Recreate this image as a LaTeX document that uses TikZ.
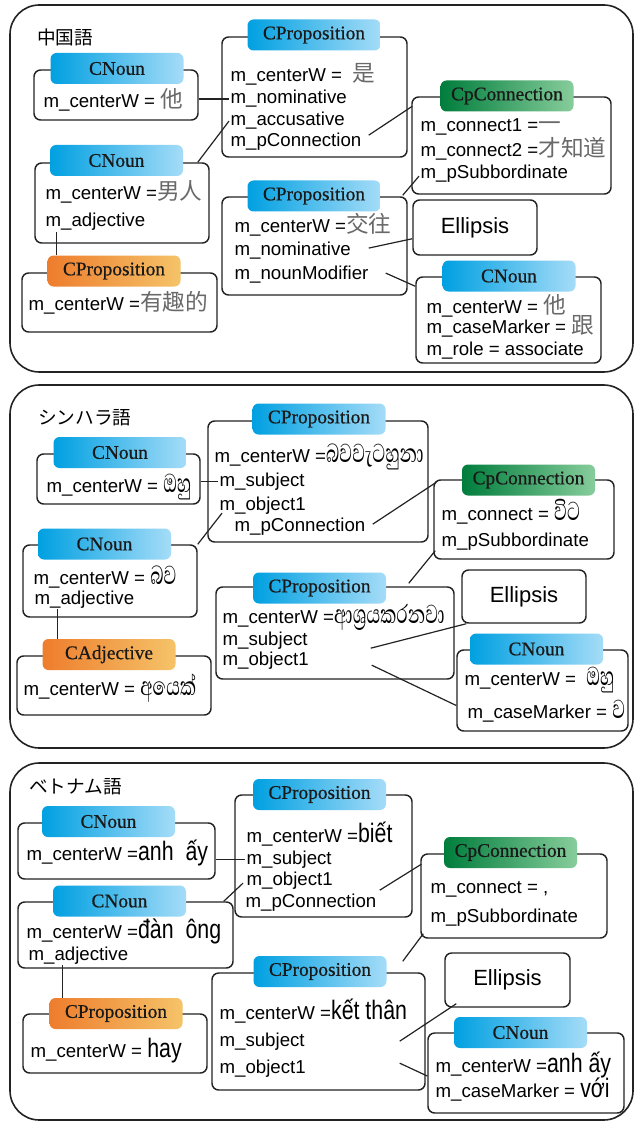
\documentclass[tikz,border=0pt]{standalone}
\usepackage{fontspec}
\setmainfont{Liberation Serif}
\setsansfont{Liberation Sans}
\newfontfamily\hdrfont[FakeBold=0.6]{Liberation Serif}
\newfontfamily\jpfont{Noto Sans CJK JP}
\newfontfamily\zhfont{Noto Sans CJK SC}
\newfontfamily\sifont[Script=Sinhala,FakeStretch=0.68]{Abhaya Libre}
\newfontfamily\vifont[FakeStretch=0.8]{Liberation Sans}
\usetikzlibrary{fit,calc}

\definecolor{linegray}{RGB}{35,35,35}
\definecolor{zhgray}{RGB}{105,105,105}
\definecolor{blueL}{RGB}{0,160,225}
\definecolor{blueR}{RGB}{165,220,248}
\definecolor{orangeL}{RGB}{238,125,45}
\definecolor{orangeR}{RGB}{245,195,105}
\definecolor{greenL}{RGB}{0,125,60}
\definecolor{greenR}{RGB}{135,205,155}

\newcommand{\zhw}[1]{{\zhfont\fontsize{17}{17}\selectfont\color{zhgray}#1}}
\newcommand{\siw}[1]{{\sifont\fontsize{25}{25}\selectfont #1}}
\newcommand{\viw}[1]{{\vifont\fontsize{20}{20}\selectfont #1}}

\tikzset{
  panel/.style={draw=linegray, line width=1.2pt, rounded corners=22pt, inner sep=0pt},
  frame/.style={draw=linegray, line width=1.1pt, rounded corners=5pt, inner sep=0pt},
  hdr/.style={rounded corners=4.5pt, minimum width=99.75pt, minimum height=23.25pt,
    inner sep=0pt, text=black!90, font=\hdrfont\fontsize{14.5}{14.5}\selectfont},
  nounhdr/.style={hdr, left color=blueL, right color=blueR},
  prophdr/.style={hdr, left color=orangeL, right color=orangeR},
  connhdr/.style={hdr, left color=greenL, right color=greenR},
  ln/.style={anchor=base west, inner sep=1pt, font=\sffamily\fontsize{14}{16}\selectfont},
  ttl/.style={anchor=west, inner sep=0pt, font=\jpfont\fontsize{14}{14}\selectfont},
  elltext/.style={inner sep=0pt, font=\sffamily\fontsize{16.5}{16.5}\selectfont},
  wire/.style={draw=linegray, line width=0.9pt},
}

\begin{document}
\begin{tikzpicture}[x=0.75pt,y=-0.75pt]
  \useasboundingbox (0,0) rectangle (636,1123);
  \fill[white] (0,0) rectangle (636,1123);

  % Chinese panel
  \node[panel, fit={(10,5) (633,372)}] (pnl1) {};
  \node[ttl] (ttl1) at (37,37) {中国語};
  \node[frame, fit={(34,70) (198,120)}] (cn1) {};
  \node[frame, fit={(222,37) (407,157)}] (cp1) {};
  \node[frame, fit={(412,97) (611,194)}] (cpc) {};
  \node[frame, fit={(35,163) (209,243)}] (cn2) {};
  \node[frame, fit={(22,273) (217,332)}] (o1) {};
  \node[frame, fit={(222,197) (407,295)}] (cp2) {};
  \node[frame, fit={(413,200) (537,255)}] (ell1) {};
  \node[elltext] (ell1t) at (ell1.center) {Ellipsis};
  \node[frame, fit={(416,277) (601,363)}] (cn3) {};

  \node[ln] (cn1w) at (42,108) {m\_centerW = \zhw{他}};
  \node[ln] (cp1w) at (229,82) {m\_centerW = ~\zhw{是}};
  \node[ln] (cp1nom) at (229,104) {m\_nominative};
  \node[ln] (cp1acc) at (229,126) {m\_accusative};
  \node[ln] (cp1con) at (229,147) {m\_pConnection};
  \node[ln] (cpc1) at (419,132) {m\_connect1 =\zhw{一}};
  \node[ln] (cpc2) at (419,157) {m\_connect2 =\zhw{才知道}};
  \node[ln] (cpcsub) at (419,179) {m\_pSubbordinate};
  \node[ln] (cn2w) at (44,200) {m\_centerW =\zhw{男人}};
  \node[ln] (cn2adj) at (44,227) {m\_adjective};
  \node[ln] (o1w) at (27,310) {m\_centerW =\zhw{有趣的}};
  \node[ln] (cp2w) at (233,233) {m\_centerW =\zhw{交往}};
  \node[ln] (cp2nom) at (233,255) {m\_nominative};
  \node[ln] (cp2mod) at (233,279) {m\_nounModifier};
  \node[ln] (cn3w) at (425,313) {m\_centerW = \zhw{他}};
  \node[ln] (cn3cm) at (425,333) {m\_caseMarker = \zhw{跟}};
  \node[ln] (cn3role) at (425,355) {m\_role = associate};

  \draw[wire] (cp1nom.west -| cn1.east) -- (cp1nom.west);
  \draw[wire] ($(cn2.north east)+(-12,0)$) -- (cp1acc.west);
  \draw[wire] ($(cp1.east |- cp1con.west)+(-39,-7)$) -- ($(cpc.north west)+(1,10)$);
  \draw[wire] ($(cp2.north east)+(-5,-1)$) -- ($(cpcsub.west)+(0,2)$);
  \draw[wire] ($(cp2.east |- cp2nom.west)+(-39,-2)$) -- ($(ell1.south west)+(0,-17)$);
  \draw[wire] ($(cp2.east |- cp2mod.west)+(-22,-1)$) -- ($(cn3.north west)+(0,10)$);

  \node[nounhdr] (cn1h) at (117,68.5) {CNoun};
  \node[nounhdr] (cp1h) at (314,35) {CProposition};
  \node[connhdr] (cpch) at (507,96) {CpConnection};
  \node[nounhdr] (cn2h) at (116.5,160.5) {CNoun};
  \node[prophdr] (o1h) at (114,271) {CProposition};
  \node[nounhdr] (cp2h) at (314,196) {CProposition};
  \node[nounhdr] (cn3h) at (509,276) {CNoun};
  \coordinate (o1t) at ($(o1h.north west)+(9,0)$);
  \draw[wire] (o1t) -- (o1t |- cn2adj.south);

  % Sinhala panel
  \node[panel, fit={(10,385) (633,748)}] (pnl2) {};
  \node[ttl] (ttl2) at (38,418) {シンハラ語};
  \node[frame, fit={(37,454) (200,504)}] (cn1s) {};
  \node[frame, fit={(208,421) (428,542)}] (cp1s) {};
  \node[frame, fit={(434,480) (614,559)}] (cpcs) {};
  \node[frame, fit={(23,545) (197,617)}] (cn2s) {};
  \node[frame, fit={(17,656) (211,715)}] (o2) {};
  \node[frame, fit={(216,587) (454,679)}] (cp2s) {};
  \node[frame, fit={(462,570) (586,623)}] (ell2) {};
  \node[elltext] (ell2t) at (ell2.center) {Ellipsis};
  \node[frame, fit={(457,650) (628,731)}] (cn3s) {};

  \node[ln] (cn1sw) at (45,492) {m\_centerW = \siw{ඔහු}};
  \node[ln] (cp1sw) at (213,462) {m\_centerW =\siw{බවවැටහුනා}};
  \node[ln] (cp1ssub) at (218,486) {m\_subject};
  \node[ln] (cp1sobj) at (218,510) {m\_object1};
  \node[ln] (cp1scon) at (233,531) {m\_pConnection};
  \node[ln] (cpcs1) at (440,520) {m\_connect = \siw{විට}};
  \node[ln] (cpcssub) at (440,546) {m\_pSubbordinate};
  \node[ln] (cn2sw) at (32,584) {m\_centerW = \siw{බව}};
  \node[ln] (cn2sadj) at (33,604) {m\_adjective};
  \node[ln] (o2w) at (22,695) {m\_centerW = \siw{අයෙක්}};
  \node[ln] (cp2sw) at (221,623) {m\_centerW =\siw{ආශ්‍රයකරනවා}};
  \node[ln] (cp2ssub) at (221,645) {m\_subject};
  \node[ln] (cp2sobj) at (221,665) {m\_object1};
  \node[ln] (cn3sw) at (463,685) {m\_centerW = ~\siw{ඔහු}};
  \node[ln] (cn3scm) at (466,718) {m\_caseMarker = \siw{ව}};

  \draw[wire] (cp1ssub.west -| cn1s.east) -- (cp1ssub.west);
  \draw[wire] (cn2s.north east) -- ($(cp1sobj.west)+(4,8)$);
  \draw[wire] ($(cp1s.east |- cp1scon.west)+(-56,-2)$) -- ($(cpcs.north west)+(3,3)$);
  \draw[wire] ($(cp2s.north east)+(-46,-3)$) -- ($(cpcs.south west)+(2,-9)$);
  \draw[wire] ($(cp2s.east |- cp2ssub.west)+(-84,8)$) -- ($(ell2.south west)+(5,0)$);
  \draw[wire] ($(cp2s.east |- cp2sobj.west)+(-83,5)$) -- ($(cn3s.west)+(0,15)$);

  \node[nounhdr] (cn1sh) at (120,452.5) {CNoun};
  \node[nounhdr] (cp1sh) at (319,419) {CProposition};
  \node[connhdr] (cpcsh) at (528.5,480) {CpConnection};
  \node[nounhdr] (cn2sh) at (104.5,544) {CNoun};
  \node[prophdr] (o2h) at (109,654.5) {CAdjective};
  \node[nounhdr] (cp2sh) at (319.5,588) {CProposition};
  \node[nounhdr] (cn3sh) at (536.5,649) {CNoun};
  \coordinate (o2t) at ($(o2h.north west)+(15,0)$);
  \draw[wire] (o2t) -- (o2t |- cn2sadj.south);

  % Vietnamese panel
  \node[panel, fit={(10,763) (633,1120)}] (pnl3) {};
  \node[ttl] (ttl3) at (29,787) {ベトナム語};
  \node[frame, fit={(18,823) (215,879)}] (cn1v) {};
  \node[frame, fit={(235,795) (412,917)}] (cp1v) {};
  \node[frame, fit={(421,854) (607,938)}] (cpcv) {};
  \node[frame, fit={(18,902) (233,968)}] (cn2v) {};
  \node[frame, fit={(23,1014) (207,1073)}] (o3) {};
  \node[frame, fit={(212,973) (425,1090)}] (cp2v) {};
  \node[frame, fit={(445,953) (570,1007)}] (ell3) {};
  \node[elltext] (ell3t) at (ell3.center) {Ellipsis};
  \node[frame, fit={(428,1033) (624,1113)}] (cn3v) {};

  \node[ln] (cn1vw) at (25,860) {m\_centerW =\viw{anh ~ấy}};
  \node[ln] (cp1vw) at (245,842) {m\_centerW =\viw{biết}};
  \node[ln] (cp1vsub) at (245,864) {m\_subject};
  \node[ln] (cp1vobj) at (245,885) {m\_object1};
  \node[ln] (cp1vcon) at (244,907) {m\_pConnection};
  \node[ln] (cpcv1) at (429,893) {m\_connect = ,};
  \node[ln] (cpcvsub) at (429,922) {m\_pSubbordinate};
  \node[ln] (cn2vw) at (25,938) {m\_centerW =\viw{đàn ~ông}};
  \node[ln] (cn2vadj) at (27,960) {m\_adjective};
  \node[ln] (o3w) at (29,1057) {m\_centerW = \viw{hay}};
  \node[ln] (cp2vw) at (218,1019) {m\_centerW =\viw{kết thân}};
  \node[ln] (cp2vsub) at (218,1046) {m\_subject};
  \node[ln] (cp2vobj) at (218,1073) {m\_object1};
  \node[ln] (cn3vw) at (434,1072) {m\_centerW =\viw{anh ấy}};
  \node[ln] (cn3vcm) at (434,1097) {m\_caseMarker = \viw{với}};

  \draw[wire] (cp1vsub.west -| cn1v.east) -- (cp1vsub.west);
  \draw[wire] ($(cn2v.north east)+(-10,0)$) -- ($(cp1vobj.west)+(-2,3)$);
  \draw[wire] ($(cp1v.east |- cp1vcon.west)+(-33,-12)$) -- ($(cpcv.north west)+(1,11)$);
  \draw[wire] ($(cp2v.north east)+(-23,-11)$) -- ($(cpcv.south west)+(3,-5)$);
  \draw[wire] ($(cp2v.east |- cp2vsub.west)+(-26,0)$) -- ($(ell3.south west)+(12,-4)$);
  \draw[wire] ($(cp2v.east |- cp2vobj.west)+(-26,-5)$) -- ($(cn3v.west)+(0,3)$);

  \node[nounhdr] (cn1vh) at (108.5,821.5) {CNoun};
  \node[nounhdr] (cp1vh) at (319.5,794.5) {CProposition};
  \node[connhdr] (cpcvh) at (510.5,852.5) {CpConnection};
  \node[nounhdr] (cn2vh) at (119.5,901) {CNoun};
  \node[prophdr] (o3h) at (116,1013.5) {CProposition};
  \node[nounhdr] (cp2vh) at (320,971.5) {CProposition};
  \node[nounhdr] (cn3vh) at (520.5,1032.5) {CNoun};
  \coordinate (o3t) at ($(o3h.north west)+(13,0)$);
  \draw[wire] (o3t) -- (o3t |- cn2vadj.south);
\end{tikzpicture}
\end{document}
